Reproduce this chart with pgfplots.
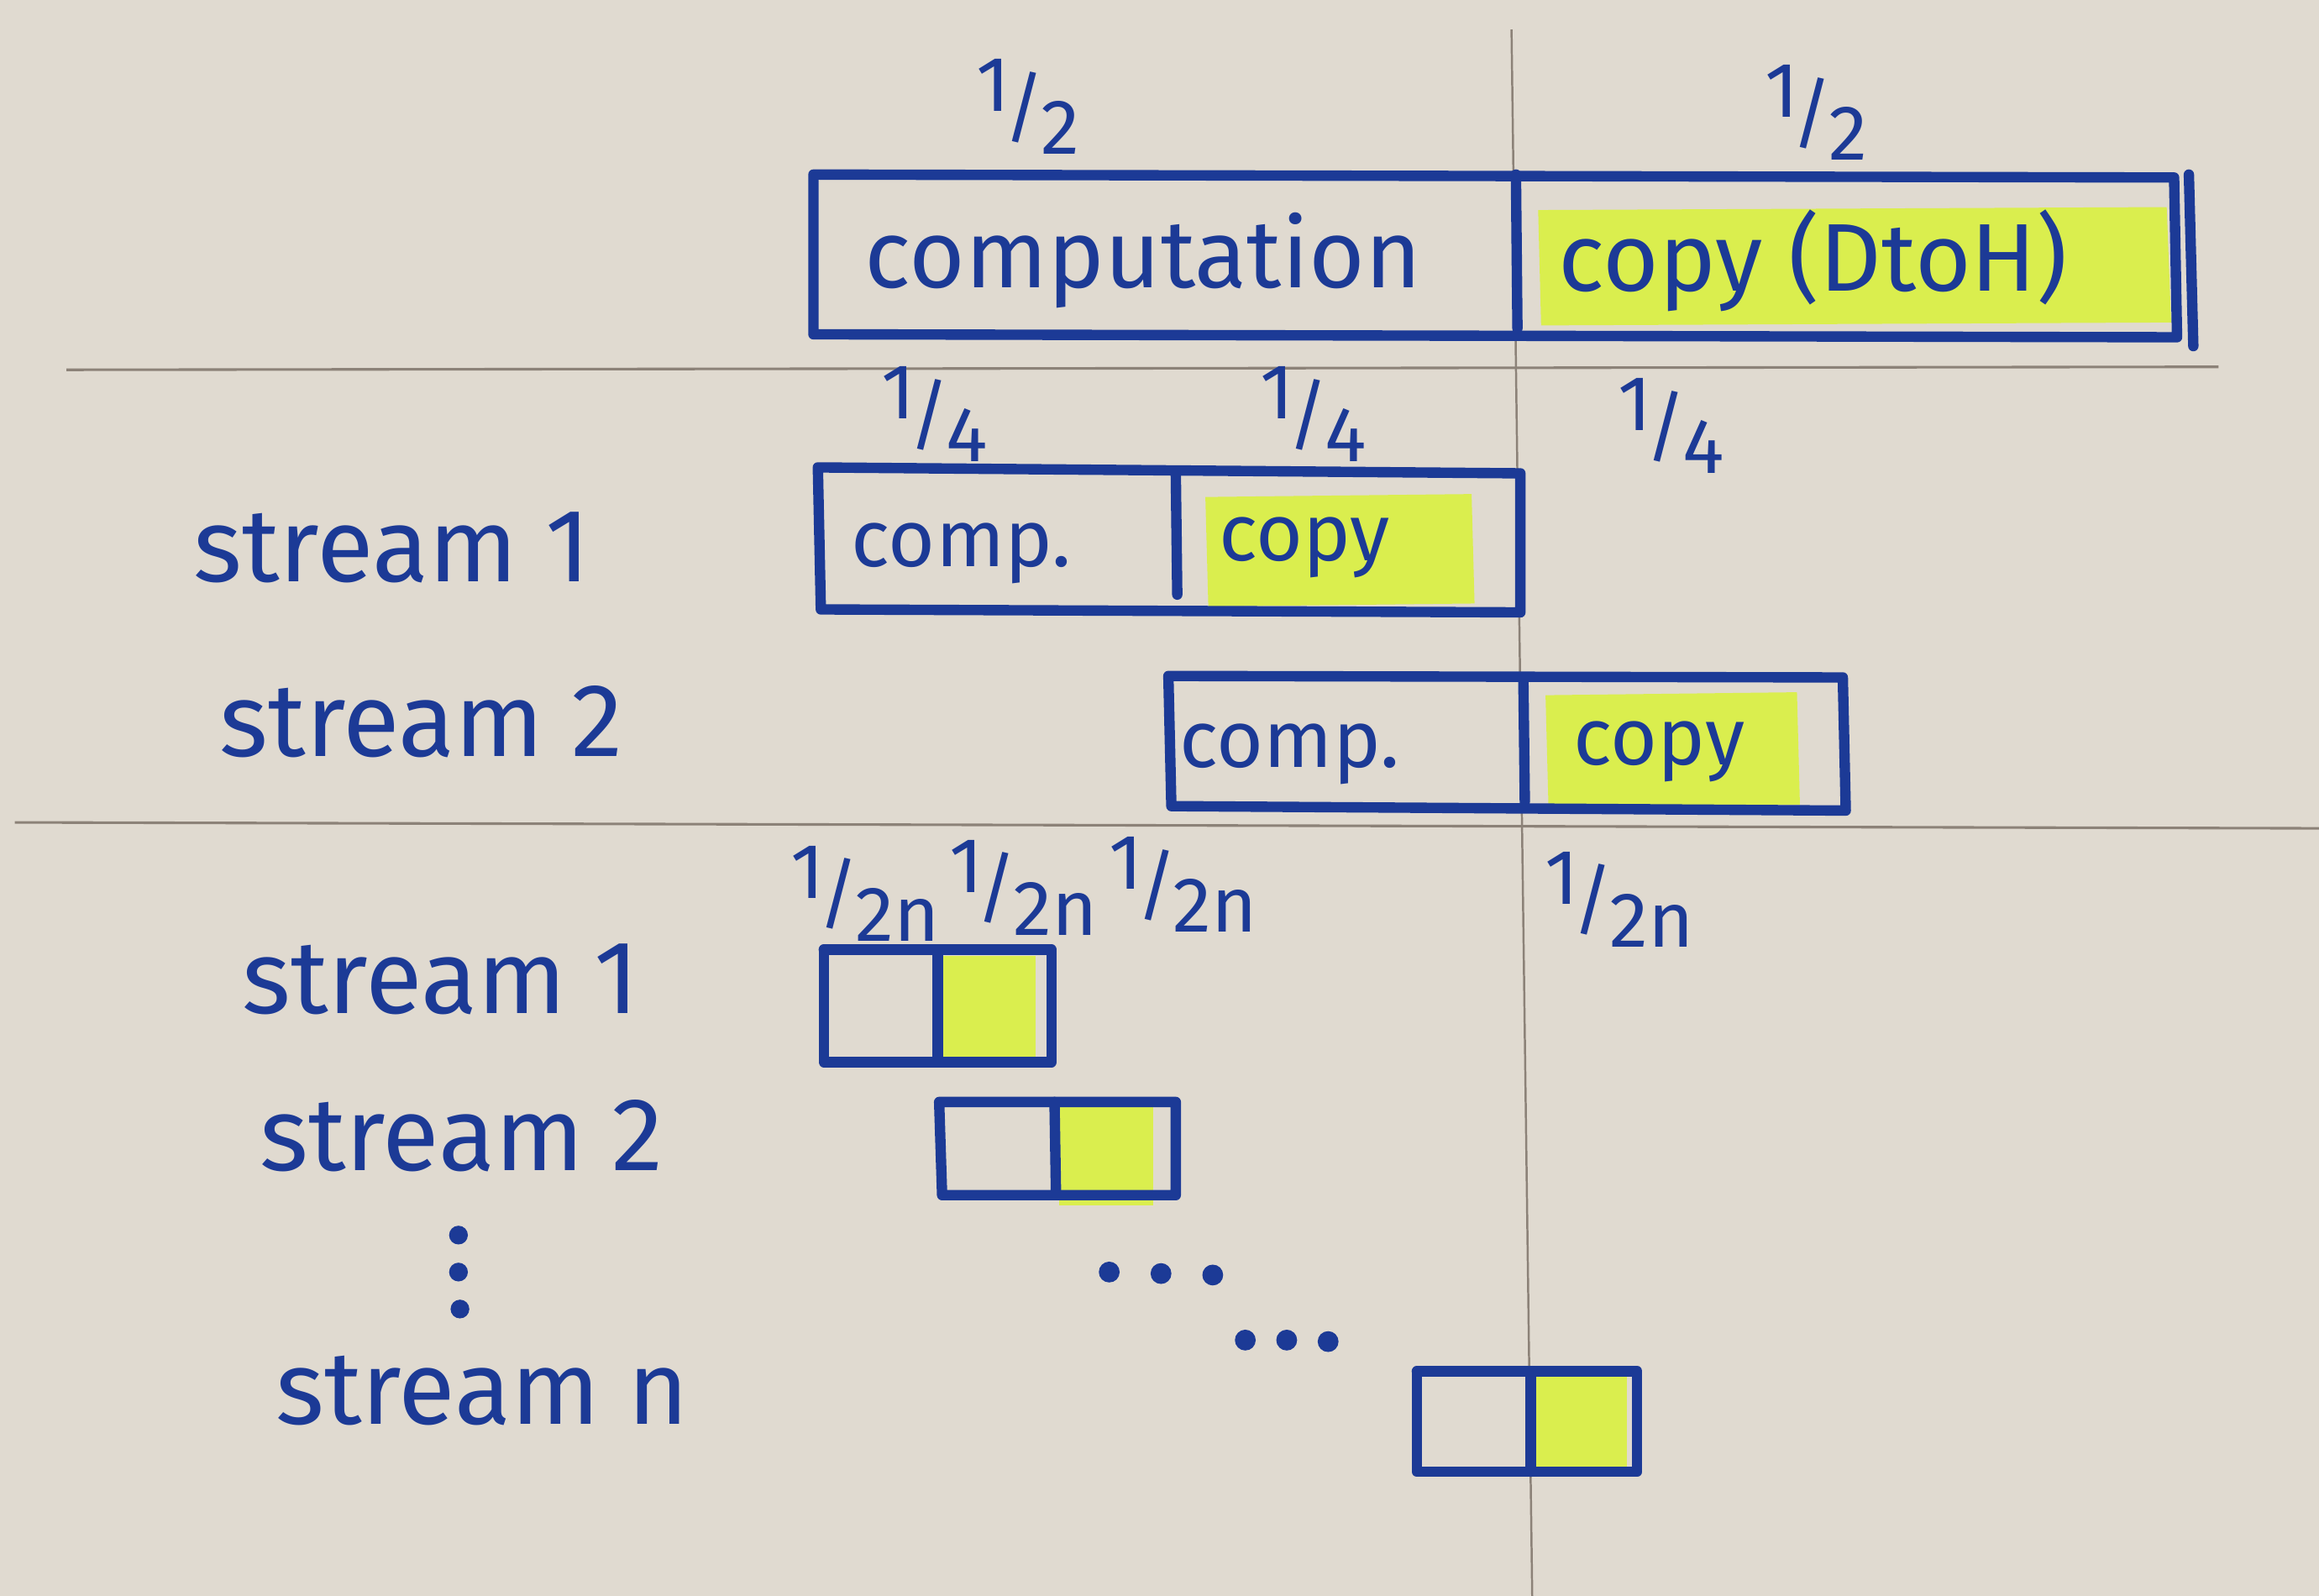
\documentclass[border=0pt]{standalone}
\usepackage{pgfplots}
\pgfplotsset{compat=1.18}
\usepackage{fontspec}
\setmainfont{Fira Sans}
\definecolor{paper}{RGB}{224,218,208}
\definecolor{ink}{RGB}{28,58,150}
\definecolor{hl}{RGB}{218,238,78}
\definecolor{pencil}{RGB}{140,130,120}
\newcommand{\frc}[2]{\raisebox{0.3em}{#1}\kern-0.08em/\kern-0.05em\raisebox{-0.25em}{#2}}
\pgfplotsset{box/.style={draw=ink, line width=2pt, mark=none, solid, line cap=round, line join=round}}
\begin{document}
\begin{tikzpicture}
\begin{axis}[
  width=15.68cm, height=10.79cm, scale only axis,
  hide axis, xmin=0, xmax=1568, ymin=0, ymax=1079, y dir=reverse,
  clip=true,
]
% paper
\addplot[fill=paper, draw=none] coordinates {(0,0) (1568,0) (1568,1079) (0,1079)};
% highlights
\addplot[fill=hl, draw=none] coordinates {(1040,142) (1465,140) (1468,218) (1042,220)};
\addplot[fill=hl, draw=none] coordinates {(815,336) (995,334) (997,408) (817,410)};
\addplot[fill=hl, draw=none] coordinates {(1045,470) (1215,468) (1217,544) (1047,546)};
\addplot[fill=hl, draw=none] coordinates {(637,646) (700,646) (700,716) (637,716)};
\addplot[fill=hl, draw=none] coordinates {(716,748) (780,748) (780,815) (716,815)};
\addplot[fill=hl, draw=none] coordinates {(1038,930) (1100,930) (1100,998) (1038,998)};
% pencil lines
\addplot[pencil, line width=0.5pt, mark=none] coordinates {(45,250) (1500,248)};
\addplot[pencil, line width=0.5pt, mark=none] coordinates {(10,556) (1568,560)};
\addplot[pencil, line width=0.4pt, mark=none] coordinates {(1022,20) (1036,1079)};
% boxes
\addplot[box] coordinates {(550,118) (1470,120) (1472,228) (550,226) (550,118)};
\addplot[box] coordinates {(1480,118) (1483,234)};
\addplot[box] coordinates {(1025,118) (1026,222)};
\addplot[box] coordinates {(553,316) (1028,320) (1028,414) (555,412) (553,316)};
\addplot[box] coordinates {(795,320) (796,402)};
\addplot[box] coordinates {(790,457) (1246,458) (1248,548) (792,545) (790,457)};
\addplot[box] coordinates {(1030,458) (1031,542)};
\addplot[box] coordinates {(557,642) (711,642) (711,718) (557,718) (557,642)};
\addplot[box] coordinates {(634,642) (634,718)};
\addplot[box] coordinates {(635,745) (795,745) (795,808) (637,808) (635,745)};
\addplot[box] coordinates {(713,745) (714,808)};
\addplot[box] coordinates {(958,927) (1107,927) (1107,995) (958,995) (958,927)};
\addplot[box] coordinates {(1035,927) (1035,995)};
% dots
\addplot[only marks, mark=*, mark size=1.8pt, ink] coordinates {(750,860) (785,861) (820,862) (842,906) (870,906) (898,907)};
\addplot[only marks, mark=*, mark size=1.6pt, ink] coordinates {(310,835) (310,860) (311,885)};
% text
\begin{scope}[text=ink]
\begin{scope}[font=\fontsize{18.5}{22}\selectfont]
\node at (773,176) {computation};
\node at (1226,176) {copy (DtoH)};
\end{scope}
\begin{scope}[font=\fontsize{15.5}{19}\selectfont]
\node at (650,374) {comp.};
\node at (882,370) {copy};
\node at (872,510) {comp.};
\node at (1122,508) {copy};
\end{scope}
\begin{scope}[font=\fontsize{20}{24}\selectfont]
\node at (265,370) {stream 1};
\node at (285,488) {stream 2};
\node at (298,662) {stream 1};
\node at (312,768) {stream 2};
\node at (326,940) {stream n};
\end{scope}
\begin{scope}[font=\fontsize{15}{18}\selectfont]
\node at (695,72) {\frc{1}{2}};
\node at (1228,76) {\frc{1}{2}};
\node at (632,280) {\frc{1}{4}};
\node at (888,280) {\frc{1}{4}};
\node at (1130,288) {\frc{1}{4}};
\node at (585,604) {\frc{1}{2n}};
\node at (692,600) {\frc{1}{2n}};
\node at (800,598) {\frc{1}{2n}};
\node at (1095,608) {\frc{1}{2n}};
\end{scope}
\end{scope}
\end{axis}
\end{tikzpicture}
\end{document}
